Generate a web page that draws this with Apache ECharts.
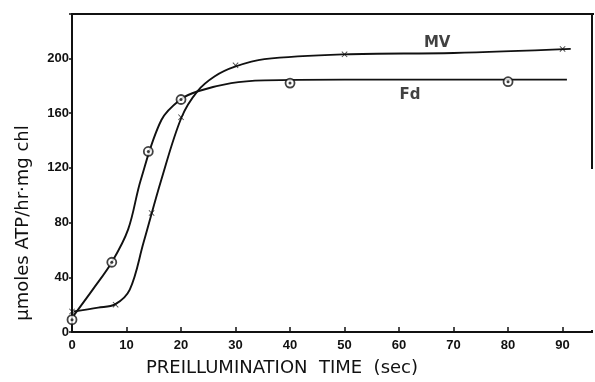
<!DOCTYPE html>
<html>
<head>
<meta charset="utf-8">
<script src="https://cdn.jsdelivr.net/npm/echarts@6/dist/echarts.min.js"></script>
<style>
  html, body { margin: 0; padding: 0; background: #fff; }
  #chart { width: 595px; height: 382px; }
</style>
</head>
<body>
<div id="chart"></div>
<script>
  // points
  var fdX = [0, 7.3, 14, 20, 40, 80];
  var fdY = [9, 51, 132, 170, 182, 183];
  var mvX = [0, 8, 14.6, 20, 30, 50, 90];
  var mvY = [15, 20, 87, 157, 195, 203, 207];

  // hand drawn curves
  var fdCurveX = [0.3, 3.8, 7.3, 10.3, 12.6, 16.4, 19.9, 23.1, 29.2, 35.3, 50, 70, 90.8];
  var fdCurveY = [12, 31, 51, 75, 111, 155, 170, 176, 182, 184, 184.5, 184.5, 184.5];
  var mvCurveX = [0.3, 4.8, 7.9, 10.6, 13.1, 16.4, 20.1, 23, 26.2, 29.9, 35.3, 50, 70, 91.5];
  var mvCurveY = [15, 17.8, 20.2, 31, 65, 111.5, 157, 176, 187, 194, 199.5, 203, 204, 207];

  var xTicks = [0, 10, 20, 30, 40, 50, 60, 70, 80, 90];
  var yTicks = [0, 40, 80, 120, 160, 200];

  var curveNames = ['MV', 'Fd'];
  var curveLabelX = [67, 62];
  var curveLabelY = [211, 173];

  var xMax = 95.4;
  var yMax = 232.5;

  function zip(a, b) {
    return a.map(function (v, i) { return [v, b[i]]; });
  }

  var ink = '#111';
  var crossPath = 'path://M0,1L1,0L5,4L9,0L10,1L6,5L10,9L9,10L5,6L1,10L0,9L4,5Z';

  var chart = echarts.init(document.getElementById('chart'));
  chart.setOption({
    animation: false,
    grid: {
      left: 72, right: 2, top: 14, bottom: 49,
      show: true, borderColor: ink, borderWidth: 2
    },
    xAxis: {
      type: 'value',
      min: 0,
      max: xMax,
      interval: 10,
      name: 'PREILLUMINATION  TIME  (sec)',
      nameLocation: 'middle',
      nameGap: 27,
      nameTextStyle: { color: ink, fontSize: 18, fontFamily: 'DejaVu Sans', padding: [0, 100, 0, 0] },
      axisLine: { lineStyle: { color: ink, width: 2 } },
      axisTick: { inside: true, length: 5, lineStyle: { color: ink, width: 1.5 } },
      axisLabel: {
        color: ink, fontSize: 13, fontWeight: 'bold', fontFamily: 'Liberation Sans', margin: 7,
        formatter: function (v) { return xTicks.indexOf(v) >= 0 ? v : ''; }
      },
      splitLine: { show: false }
    },
    yAxis: {
      type: 'value',
      min: 0,
      max: yMax,
      interval: 40,
      name: 'μmoles ATP/hr·mg chl',
      nameLocation: 'middle',
      nameGap: 40,
      nameTextStyle: { color: ink, fontSize: 18, fontFamily: 'DejaVu Sans', padding: [0, 100, 0, 0] },
      axisLine: { lineStyle: { color: ink, width: 2 } },
      axisTick: { length: 3, lineStyle: { color: ink, width: 1.5 } },
      axisLabel: {
        color: ink, fontSize: 13, fontWeight: 'bold', fontFamily: 'Liberation Sans', margin: 3,
        formatter: function (v) { return yTicks.indexOf(v) >= 0 ? v : ''; }
      },
      splitLine: { show: false }
    },
    // frame: top edge kept, lower part of the right edge hidden as in the figure
    graphic: {
      elements: [
        {
          type: 'rect',
          z: 100,
          shape: { x: 71, y: 13, width: 523, height: 2 },
          style: { fill: ink }
        },
        {
          type: 'rect',
          z: 100,
          shape: { x: 590, y: 169, width: 5, height: 161 },
          style: { fill: '#fff' }
        }
      ]
    },
    series: [
      {
        // top edge of the frame, drawn along the axis maximum
        name: 'frame',
        type: 'line',
        data: [[0, yMax], [xMax, yMax]],
        clip: false,
        showSymbol: false,
        silent: true,
        lineStyle: { color: ink, width: 2 },
        z: 10
      },
      {
        name: 'Fd curve',
        type: 'line',
        data: zip(fdCurveX, fdCurveY),
        smooth: 0.35,
        showSymbol: false,
        lineStyle: { color: ink, width: 1.9 }
      },
      {
        name: 'MV curve',
        type: 'line',
        data: zip(mvCurveX, mvCurveY),
        smooth: 0.35,
        showSymbol: false,
        lineStyle: { color: ink, width: 1.9 }
      },
      {
        name: 'Fd',
        type: 'scatter',
        data: zip(fdX, fdY),
        symbol: 'circle',
        symbolSize: 9,
        itemStyle: { color: '#fff', borderColor: ink, borderWidth: 1.8 },
        z: 5
      },
      {
        name: 'Fd dot',
        type: 'scatter',
        data: zip(fdX, fdY),
        symbol: 'circle',
        symbolSize: 3,
        itemStyle: { color: ink },
        z: 6
      },
      {
        name: 'MV',
        type: 'scatter',
        data: zip(mvX, mvY),
        symbol: crossPath,
        symbolSize: 6,
        itemStyle: { color: ink },
        z: 5
      },
      {
        name: 'labels',
        type: 'scatter',
        data: curveNames.map(function (n, i) { return [curveLabelX[i], curveLabelY[i], n]; }),
        symbolSize: 0,
        label: {
          show: true,
          position: 'inside',
          formatter: function (p) { return p.value[2]; },
          color: ink,
          fontSize: 15,
          fontWeight: 'bold',
          fontFamily: 'DejaVu Sans'
        }
      }
    ]
  });
</script>
</body>
</html>
